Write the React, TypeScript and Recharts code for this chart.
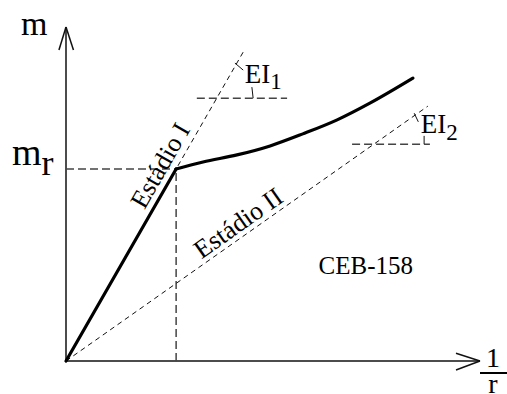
import React from 'react';
import { LineChart, Line, XAxis, YAxis, ReferenceLine, ReferenceDot } from 'recharts';

const SERIF = '"Liberation Serif", "Times New Roman", serif';

// Axis extents (1/r horizontally, m vertically), in arbitrary units
const X_DOMAIN = [0, 10];
const Y_DOMAIN = [0, 10];

// Cracking point (1/r_r, m_r)
const crackX = 2.66;
const crackM = 5.75;

// Stage I branch: straight rise from the origin up to cracking
const stageIBranch = [
  { x: 0, y: 0 },
  { x: crackX, y: crackM },
];

// Cracked branch: stiffening curve after m_r
const crackedBranch = [
  { x: crackX, y: crackM },
  { x: 3.31, y: 5.96 },
  { x: 4.13, y: 6.17 },
  { x: 4.93, y: 6.44 },
  { x: 5.72, y: 6.8 },
  { x: 6.55, y: 7.22 },
  { x: 7.34, y: 7.72 },
  { x: 8.38, y: 8.47 },
];

// Stiffness rays EI1 (Estádio I) and EI2 (Estádio II)
const rayStageI = [{ x: 0, y: 0 }, { x: 4.28, y: 9.25 }];
const rayStageII = [{ x: 0, y: 0 }, { x: 8.74, y: 7.63 }];

// Horizontal guides used to mark the slope angles
const guideEI1 = [{ x: 3.16, y: 7.87 }, { x: 5.34, y: 7.87 }];
const guideEI2 = [{ x: 6.91, y: 6.49 }, { x: 8.79, y: 6.49 }];

// Small angle-mark strokes at each slope
const angleMarksEI1 = [
  [{ x: 4.08, y: 8.92 }, { x: 4.28, y: 8.71 }],
  [{ x: 4.49, y: 8.2 }, { x: 4.52, y: 7.87 }],
];
const angleMarksEI2 = [
  [{ x: 8.41, y: 7.42 }, { x: 8.51, y: 7.16 }],
  [{ x: 8.65, y: 6.74 }, { x: 8.65, y: 6.49 }],
];

// Axis lines and their open arrow heads
const axisX = [{ x: 0, y: 0 }, { x: 10, y: 0 }];
const axisY = [{ x: 0, y: 0 }, { x: 0, y: 10 }];
const arrowY = [
  [{ x: -0.17, y: 9.31 }, { x: 0, y: 10 }],
  [{ x: 0.18, y: 9.31 }, { x: 0, y: 10 }],
];
const arrowX = [
  [{ x: 9.42, y: 0.23 }, { x: 10, y: 0 }],
  [{ x: 9.42, y: -0.27 }, { x: 10, y: 0 }],
];

// Text
const yLabel = 'm';
const crackLabel = ['m', 'r'];
const xLabel = ['1', 'r'];
const stageILabel = 'Estádio I';
const stageIILabel = 'Estádio II';
const ei1Label = ['EI', '1'];
const ei2Label = ['EI', '2'];
const sourceLabel = 'CEB-158';

const guideStyle = { stroke: '#444', strokeWidth: 1.5, strokeDasharray: '8 4' };
const rayStyle = { stroke: '#111', strokeWidth: 1, strokeDasharray: '5 4' };
const markStyle = { stroke: '#111', strokeWidth: 1 };
const axisStyle = { stroke: '#111', strokeWidth: 1.5 };

type Pt = { x: number; y: number };

const seg = (key: string, s: Pt[], style: any) => (
  <ReferenceLine
    key={key}
    segment={s as any}
    ifOverflow="visible"
    {...style}
  />
);

// Text anchored at a data point; draw(cx, cy) returns the SVG text
const textAt = (key: string, x: number, y: number, draw: (cx: number, cy: number) => React.ReactNode) => (
  <ReferenceDot
    key={key}
    x={x}
    y={y}
    r={0}
    ifOverflow="visible"
    shape={(p: any) => <g>{draw(p.cx, p.cy)}</g>}
  />
);

export default function App() {
  return (
    <div style={{ position: 'absolute', left: 0, top: 0, background: '#fff' }}>
      <LineChart
        width={507}
        height={394}
        margin={{ top: 27, right: 27, bottom: 33, left: 66 }}
      >
        <XAxis type="number" dataKey="x" domain={X_DOMAIN} hide />
        <YAxis type="number" dataKey="y" domain={Y_DOMAIN} hide />

        {/* axes */}
        {seg('axis-x', axisX, axisStyle)}
        {seg('axis-y', axisY, axisStyle)}
        {arrowY.map((s, i) => seg(`ay-${i}`, s, axisStyle))}
        {arrowX.map((s, i) => seg(`ax-${i}`, s, axisStyle))}

        {/* cracking guides */}
        {seg('crack-h', [{ x: 0, y: crackM }, { x: crackX, y: crackM }], guideStyle)}
        {seg('crack-v', [{ x: crackX, y: 0 }, { x: crackX, y: crackM }], guideStyle)}

        {/* stiffness rays */}
        {seg('ray-1', rayStageI, rayStyle)}
        {seg('ray-2', rayStageII, rayStyle)}

        {/* slope angle guides */}
        {seg('g-ei1', guideEI1, guideStyle)}
        {seg('g-ei2', guideEI2, guideStyle)}
        {angleMarksEI1.map((s, i) => seg(`m1-${i}`, s, markStyle))}
        {angleMarksEI2.map((s, i) => seg(`m2-${i}`, s, markStyle))}

        <Line
          data={stageIBranch}
          dataKey="y"
          type="linear"
          stroke="#000"
          strokeWidth={3.2}
          strokeLinecap="round"
          dot={false}
          activeDot={false}
          isAnimationActive={false}
        />
        <Line
          data={crackedBranch}
          dataKey="y"
          type="monotone"
          stroke="#000"
          strokeWidth={3.2}
          strokeLinecap="round"
          dot={false}
          activeDot={false}
          isAnimationActive={false}
        />

        {textAt('lbl-m', 0, Y_DOMAIN[1], (cx, cy) => (
          <text x={cx - 45} y={cy + 8} fontFamily={SERIF} fontSize={34} fill="#000">
            {yLabel}
          </text>
        ))}
        {textAt('lbl-mr', 0, crackM, (cx, cy) => (
          <text x={cx - 54} y={cy - 4} fontFamily={SERIF} fontSize={38} fill="#000">
            {crackLabel[0]}
            <tspan dy={10} fontSize={36}>{crackLabel[1]}</tspan>
          </text>
        ))}
        {textAt('lbl-x', X_DOMAIN[1], 0, (cx, cy) => (
          <g>
            <text x={cx + 13} y={cy + 6} textAnchor="middle" fontFamily={SERIF} fontSize={28} fill="#000">
              {xLabel[0]}
            </text>
            <line x1={cx} x2={cx + 27} y1={cy + 12} y2={cy + 12} stroke="#000" strokeWidth={2} />
            <text x={cx + 13} y={cy + 32} textAnchor="middle" fontFamily={SERIF} fontSize={28} fill="#000">
              {xLabel[1]}
            </text>
          </g>
        ))}
        {textAt('lbl-s1', 2.6, 2.6 * (9.25 / 4.28), (cx, cy) => (
          <text
            x={cx - 6}
            y={cy - 3.5}
            textAnchor="middle"
            transform={`rotate(-60.2 ${cx - 6} ${cy - 3.5})`}
            fontFamily={SERIF}
            fontSize={26}
            fill="#000"
          >
            {stageILabel}
          </text>
        ))}
        {textAt('lbl-s2', 4.35, 4.35 * (7.63 / 8.74), (cx, cy) => (
          <text
            x={cx - 2.9}
            y={cy - 4.1}
            textAnchor="middle"
            transform={`rotate(-35.2 ${cx - 2.9} ${cy - 4.1})`}
            fontFamily={SERIF}
            fontSize={26}
            fill="#000"
          >
            {stageIILabel}
          </text>
        ))}
        {textAt('lbl-ei1', 4.32, guideEI1[0].y, (cx, cy) => (
          <text x={cx} y={cy - 15} fontFamily={SERIF} fontSize={27} fill="#000">
            {ei1Label[0]}
            <tspan dy={6} fontSize={23}>{ei1Label[1]}</tspan>
          </text>
        ))}
        {textAt('lbl-ei2', 8.57, guideEI2[0].y, (cx, cy) => (
          <text x={cx} y={cy - 11} fontFamily={SERIF} fontSize={27} fill="#000">
            {ei2Label[0]}
            <tspan dy={7} fontSize={23}>{ei2Label[1]}</tspan>
          </text>
        ))}
        {textAt('lbl-src', 6.1, 2.6, (cx, cy) => (
          <text x={cx} y={cy} fontFamily={SERIF} fontSize={25} fill="#000">
            {sourceLabel}
          </text>
        ))}
      </LineChart>
    </div>
  );
}
